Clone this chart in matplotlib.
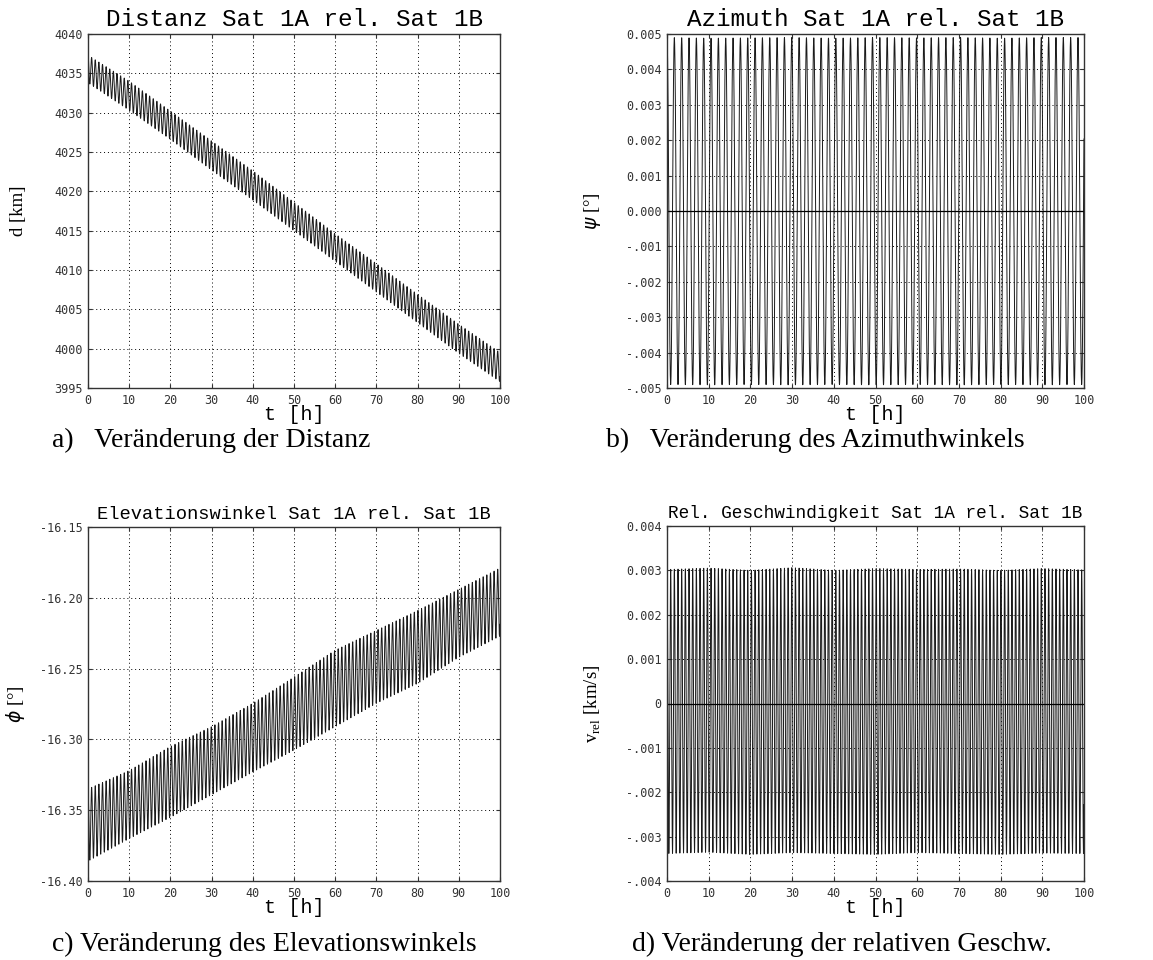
import numpy as np
import matplotlib
matplotlib.use("Agg")
import matplotlib.pyplot as plt
from matplotlib.ticker import FixedLocator, FixedFormatter

## envelope values at every 10 h
tEnv = [0, 10, 20, 30, 40, 50, 60, 70, 80, 90, 100]

distTop = [4037.3, 4034.0, 4030.2, 4026.4, 4022.6, 4018.6, 4014.6, 4010.8, 4006.9, 4003.1, 3999.5]
distBot = [4033.8, 4030.3, 4026.6, 4022.7, 4018.9, 4015.0, 4011.1, 4007.2, 4003.3, 3999.4, 3995.8]

aziTop = [0.00490, 0.00488, 0.00489, 0.00490, 0.00488, 0.00490, 0.00489, 0.00490, 0.00488, 0.00490, 0.00490]
aziBot = [-0.00490, -0.00491, -0.00490, -0.00491, -0.00490, -0.00491, -0.00490, -0.00491, -0.00490, -0.00491, -0.00490]

elevTop = [-16.335, -16.322, -16.305, -16.291, -16.2745, -16.256, -16.237, -16.223, -16.209, -16.194, -16.179]
elevBot = [-16.386, -16.370, -16.355, -16.339, -16.323, -16.3075, -16.291, -16.2745, -16.2605, -16.242, -16.227]

vrelTop = [0.00302, 0.00305, 0.00300, 0.00306, 0.00300, 0.00304, 0.00302, 0.00303, 0.00300, 0.00304, 0.00301]
vrelBot = [-0.00338, -0.00335, -0.00340, -0.00336, -0.00338, -0.00340, -0.00336, -0.00338, -0.00340, -0.00337, -0.00338]

## orbit period read from the spacing of the azimuth peaks [h]
orbitPeriod = 1.76

## tick labels
xTicks = [0, 10, 20, 30, 40, 50, 60, 70, 80, 90, 100]
distTicks = [3995, 4000, 4005, 4010, 4015, 4020, 4025, 4030, 4035, 4040]
aziTicks = [-0.005, -0.004, -0.003, -0.002, -0.001, 0.0, 0.001, 0.002, 0.003, 0.004, 0.005]
aziLabels = ["-.005", "-.004", "-.003", "-.002", "-.001", "0.000", "0.001", "0.002", "0.003", "0.004", "0.005"]
elevTicks = [-16.40, -16.35, -16.30, -16.25, -16.20, -16.15]
elevLabels = ["-16.40", "-16.35", "-16.30", "-16.25", "-16.20", "-16.15"]
vrelTicks = [-0.004, -0.003, -0.002, -0.001, 0.0, 0.001, 0.002, 0.003, 0.004]
vrelLabels = ["-.004", "-.003", "-.002", "-.001", "0", "0.001", "0.002", "0.003", "0.004"]

t = np.linspace(0, 100, 40001)

## oscillation between the read envelopes
def oscillate(top, bot, period):
    hi = np.interp(t, tEnv, top)
    lo = np.interp(t, tEnv, bot)
    return (hi + lo) / 2 + (hi - lo) / 2 * np.cos(2 * np.pi * t / period)

dist = oscillate(distTop, distBot, orbitPeriod / 2)
azi = oscillate(aziTop, aziBot, orbitPeriod)
elev = oscillate(elevTop, elevBot, orbitPeriod / 2)
vrel = oscillate(vrelTop, vrelBot, orbitPeriod / 2)

W, H = 1153, 960
fig = plt.figure(figsize=(W / 100, H / 100), dpi=100)

monoFont = "Liberation Mono"
tickFont = "DejaVu Sans Mono"
serifFont = "Liberation Serif"

def makeAxes(x0, x1, y0, y1):
    ax = fig.add_axes([x0 / W, 1 - y1 / H, (x1 - x0) / W, (y1 - y0) / H])
    ax.pxLeft, ax.pxWidth = x0, x1 - x0
    for s in ax.spines.values():
        s.set_color("#333333")
        s.set_linewidth(1.0)
    ax.tick_params(direction="in", length=3, width=0.8, top=True, right=True,
                   colors="#333333", labelsize=8.5, pad=4)
    ax.grid(True, color="black", linestyle=(0, (1, 3)), linewidth=0.7)
    ax.set_xlim(0, 100)
    ax.set_xticks(xTicks)
    return ax

def finish(ax, title, titleSize, ylabel, ylabelX):
    for lab in ax.get_xticklabels() + ax.get_yticklabels():
        lab.set_fontfamily(tickFont)
        lab.set_color("#333333")
    ax.set_title(title, fontfamily=monoFont, fontsize=titleSize, pad=6)
    ax.set_xlabel("t [h]", fontfamily=monoFont, fontsize=14.5, labelpad=-1)
    ax.set_ylabel(ylabel, fontfamily=serifFont, fontsize=13.5)
    ax.yaxis.set_label_coords((ylabelX - ax.pxLeft) / ax.pxWidth, 0.5)

lineKw = dict(color="#1a1a1a", linewidth=0.7)

## a) distance
axA = makeAxes(88, 500, 34, 388)
axA.plot(t, dist, **lineKw)
axA.set_ylim(3995, 4040)
axA.set_yticks(distTicks)
finish(axA, "Distanz Sat 1A rel. Sat 1B", 17.5, "d [km]", 27)

## b) azimuth
axB = makeAxes(667, 1084, 34, 388)
axB.plot(t, azi, **lineKw)
axB.axhline(0, color="black", linewidth=0.9)
axB.set_ylim(-0.005, 0.005)
axB.yaxis.set_major_locator(FixedLocator(aziTicks))
axB.yaxis.set_major_formatter(FixedFormatter(aziLabels))
finish(axB, "Azimuth Sat 1A rel. Sat 1B", 17.5, r"$\psi$ [°]", 603)

## c) elevation
axC = makeAxes(88, 500, 527, 881)
axC.plot(t, elev, **lineKw)
axC.set_ylim(-16.40, -16.15)
axC.yaxis.set_major_locator(FixedLocator(elevTicks))
axC.yaxis.set_major_formatter(FixedFormatter(elevLabels))
finish(axC, "Elevationswinkel Sat 1A rel. Sat 1B", 13.5, r"$\phi$ [°]", 27)

## d) relative velocity
axD = makeAxes(667, 1084, 526, 881)
axD.plot(t, vrel, **lineKw)
axD.axhline(0, color="black", linewidth=0.9)
axD.set_ylim(-0.004, 0.004)
axD.yaxis.set_major_locator(FixedLocator(vrelTicks))
axD.yaxis.set_major_formatter(FixedFormatter(vrelLabels))
finish(axD, "Rel. Geschwindigkeit Sat 1A rel. Sat 1B", 12.8, r"v$_{\mathregular{rel}}$ [km/s]", 603)

## captions below the panels
capKw = dict(fontfamily=serifFont, fontsize=20, va="center", ha="left")
fig.text(52 / W, 1 - 440 / H, "a)   Veränderung der Distanz", **capKw)
fig.text(606 / W, 1 - 440 / H, "b)   Veränderung des Azimuthwinkels", **capKw)
fig.text(52 / W, 1 - 944 / H, "c) Veränderung des Elevationswinkels", **capKw)
fig.text(632 / W, 1 - 944 / H, "d) Veränderung der relativen Geschw.", **capKw)

fig.savefig("out.png", dpi=100)
